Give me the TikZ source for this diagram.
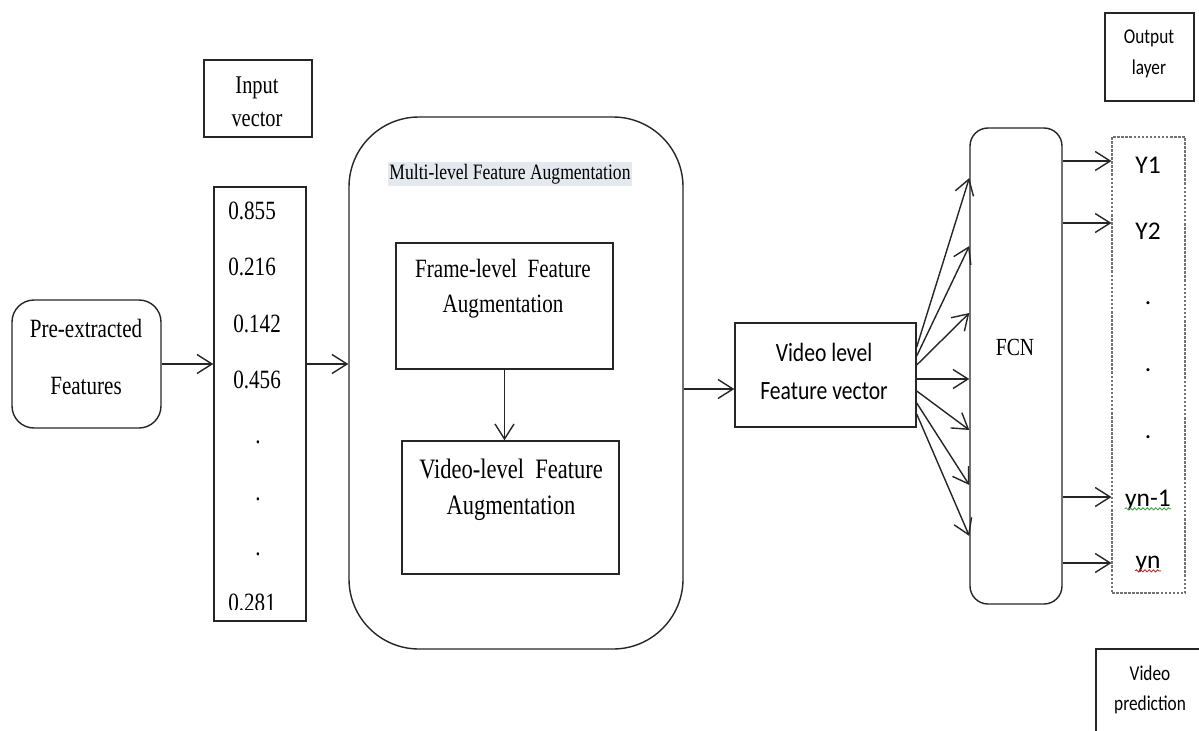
\documentclass[tikz,border=0pt]{standalone}
\usepackage{fontspec}
\setmainfont[FakeStretch=0.8]{Liberation Serif}
\newfontfamily\sansnarrow[FakeStretch=0.82]{Carlito}
\newfontfamily\sansplain{Carlito}
\usetikzlibrary{arrows.meta,fit,decorations.pathmorphing}

\definecolor{titlebg}{RGB}{228,232,239}
\definecolor{spellgreen}{RGB}{60,165,60}
\definecolor{spellred}{RGB}{215,40,40}

\tikzset{
	box/.style={draw=black!85, line width=0.8pt, inner sep=0pt},
	rbox/.style={box, rounded corners=#1},
	dbox/.style={draw=black!55, line width=0.6pt, dash pattern=on 1.5pt off 0.8pt, inner sep=0pt},
	arr/.style={draw=black!85, line width=0.8pt, -{Straight Barb[length=3mm,width=3.8mm]}},
	txt/.style 2 args={inner sep=0pt, align=center, font=\fontsize{#1}{#2}\selectfont},
	stxt/.style 2 args={inner sep=0pt, align=center, font=\sansnarrow\fontsize{#1}{#2}\selectfont},
	otxt/.style={inner sep=0pt, font=\sansplain\fontsize{14.5}{16}\selectfont},
	squiggle/.style={line width=0.5pt, decorate, decoration={snake, amplitude=0.6pt, segment length=2.4pt}},
}

\begin{document}
\begin{tikzpicture}[x=0.02cm, y=-0.02cm]

% frame %{{{2

	\useasboundingbox (0,0) rectangle (1199,730);
	\clip (0,0) rectangle (1199,730);

% boxes %{{{2

	\node[rbox=0.44cm, fit={(12,300) (161,428)}] (pre) {};
	\node[box, fit={(204,60) (312,137)}] (inlabel) {};
	\node[box, fit={(214,187) (306,621)}] (vec) {};
	\node[rbox=1.4cm, fit={(349,117) (683,649)}] (multi) {};
	\node[box, fit={(396,243) (613,369)}] (frame) {};
	\node[box, fit={(402,441) (619,574)}] (vidaug) {};
	\node[box, fit={(735,323) (916,427)}] (vlf) {};
	\node[rbox=0.36cm, fit={(970,128) (1062,604)}] (fcn) {};
	\node[dbox, fit={(1112,137) (1185,593)}] (outbox) {};
	\node[box, fit={(1105,13) (1194,101)}] (outlabel) {};
	\node[box, fit={(1096,649) (1240,780)}] (predlabel) {};

% texts %{{{2

	\node[txt={15}{32}] (pretxt) at (86,357) {Pre-extracted\\Features};
	\node[txt={14.5}{19}] (intxt) at (257,102) {Input\\vector};
	\node[txt={12.5}{14}, fill=titlebg, inner xsep=1pt, inner ysep=1.2pt] (title) at (510,174) {Multi-level Feature Augmentation};
	\node[txt={15}{20}] (frametxt) at (503,289) {Frame-level\ \ Feature\\Augmentation};
	\node[txt={16}{20.5}] (vidaugtxt) at (511,490) {Video-level\ \ Feature\\Augmentation};
	\node[txt={14}{16}] (fcntxt) at (1015,347) {FCN};
	\node[stxt={15}{21.6}] (vlftxt) at (824,371) {Video level\\Feature vector};
	\node[stxt={12}{18}] (outtxt) at (1149,54) {Output\\layer};
	\node[stxt={12}{17}] (predtxt) at (1150,690) {Video\\prediction};

% vector entries %{{{2

	\foreach \x/\y/\val [count=\i] in {228/211/0.855, 228/267/0.216, 233/324/0.142, 233/380/0.456, 255/442/., 255/499/., 255/554/.}
		\node[txt={15}{17}, anchor=west] (v\i) at (\x,\y) {\val};

	\begin{scope}
		\clip (214,187) rectangle (306,609);
		\node[txt={15}{17}, anchor=west] (v8) at (228,603) {0.281};
	\end{scope}

% output entries %{{{2

	\foreach \y/\lab [count=\i] in {165/Y1, 231/Y2, 303/., 370/., 437/., 500/yn-1, 564/yn}
		\node[otxt] (y\i) at (1148,\y) {\lab};

	\draw[squiggle, spellgreen] ([yshift=1pt]y6.south west) -- ([yshift=1pt]y6.south east);
	\draw[squiggle, spellred] ([yshift=1pt]y7.south west) -- ([yshift=1pt]y7.south east);

% arrows %{{{2

	\draw[arr] (pre.east) -- (pre.east -| vec.west);
	\draw[arr] (vec.east |- pre.east) -- (multi.west |- pre.east);
	\draw[arr] (frame.south) -- (frame.south |- vidaug.north);
	\draw[arr] (multi.east |- 0,389) -- (vlf.west |- 0,389);

	\foreach \s/\t in {347/178, 356/246, 365/313, 379/379, 391/430, 403/485, 414/536}
		\draw[arr] (vlf.east |- 0,\s) -- (fcn.west |- 0,\t);

	\foreach \y in {161,223,497,563}
		\draw[arr] (fcn.east |- 0,\y) -- (outbox.west |- 0,\y);

% closing %{{{2

\end{tikzpicture}
\end{document}
